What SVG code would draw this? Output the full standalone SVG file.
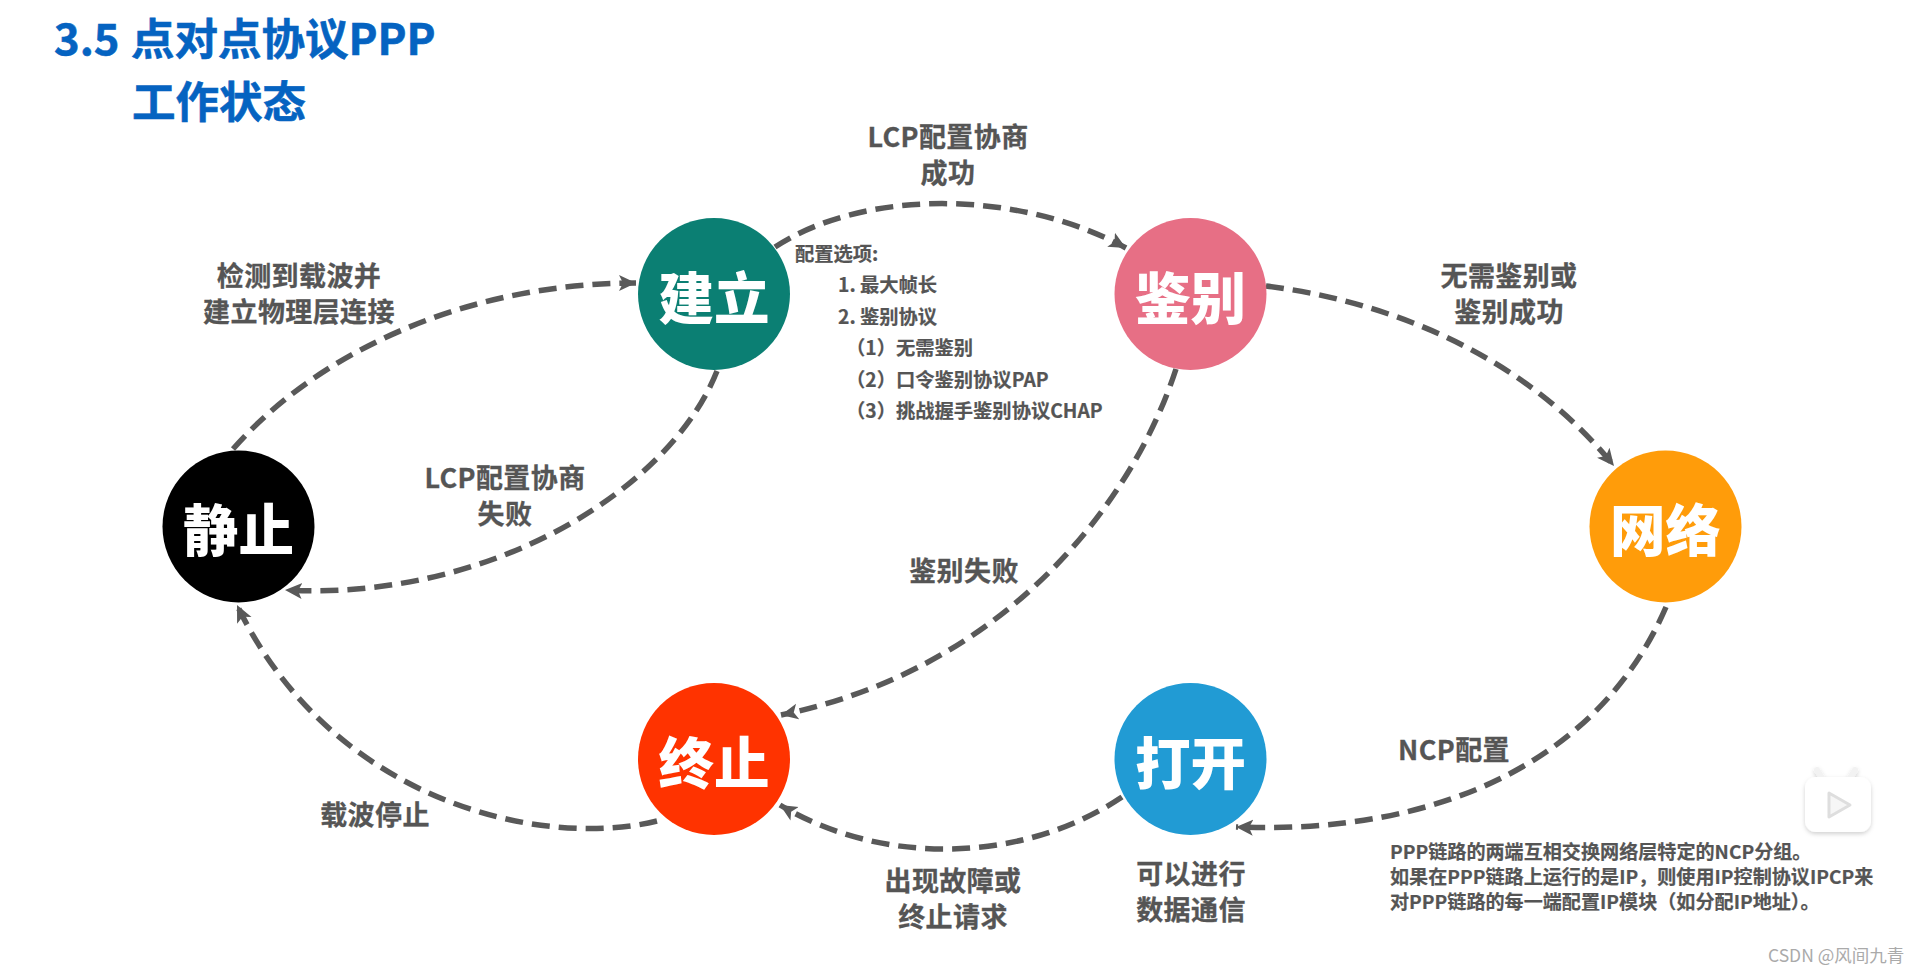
<svg xmlns="http://www.w3.org/2000/svg" width="1920" height="974" viewBox="0 0 1920 974">
<style>
text{font-family:"Noto Sans CJK SC","Noto Sans",sans-serif;font-weight:700}
.n{font-size:55.5px;fill:#fff;text-anchor:middle;font-weight:900}
.t{font-size:43.5px;fill:#0563c1;stroke:#0563c1;stroke-width:.6}
.l{font-size:27px;letter-spacing:.4px;fill:#555;text-anchor:middle;stroke:#555;stroke-width:.3}
.s{font-size:19.3px;fill:#555;stroke:#555;stroke-width:.2}
.m{font-size:19.1px}
.c{fill:none;stroke:#595959;stroke-width:5.5;stroke-dasharray:18 9;marker-end:url(#a)}
</style>
<defs>
<marker id="a" markerUnits="userSpaceOnUse" markerWidth="22" markerHeight="22" refX="17" refY="10" orient="auto">
<path d="M0 2 L17 10 L0 18 L4 10 Z" fill="#595959"/>
</marker>
<filter id="sh" x="-20%" y="-20%" width="140%" height="150%"><feDropShadow dx="0" dy="2" stdDeviation="2" flood-color="#000" flood-opacity=".18"/></filter>
</defs>
<rect width="1920" height="974" fill="#fff"/>
<g id="title">
<text class="t" x="54" y="55">3.5</text>
<text class="t" x="131" y="55">点对点协议PPP</text>
<text class="t" x="132" y="118">工作状态</text>
</g>
<g id="connectors">
<path class="c" d="M233 449 C320 350 470 283 636 283"/>
<path class="c" d="M717 371 C670 490 490 601 285 590"/>
<path class="c" d="M775 247 C865 188 1020 190 1126 248"/>
<path class="c" d="M1266 286 C1380 300 1520 350 1614 466"/>
<path class="c" d="M1666 607 C1600 760 1440 835 1236 827"/>
<path class="c" d="M1122 797 C1020 865 880 865 780 805"/>
<path class="c" d="M657 821 C540 850 330 800 237 605"/>
<path class="c" d="M1176 369 C1130 510 1000 670 781 715"/>
</g>
<g id="node-idle"><circle cx="238.5" cy="526.5" r="76" fill="#000"/><text class="n" x="238.5" y="551">静止</text></g>
<g id="node-establish"><circle cx="714" cy="294" r="76" fill="#0b7f73"/><text class="n" x="714" y="319">建立</text></g>
<g id="node-auth"><circle cx="1190.5" cy="294" r="76" fill="#e76f85"/><text class="n" x="1190.5" y="319">鉴别</text></g>
<g id="node-network"><circle cx="1665.5" cy="526.5" r="76" fill="#ff9c0a"/><text class="n" x="1665.5" y="551">网络</text></g>
<g id="node-open"><circle cx="1190.5" cy="759" r="76" fill="#219bd4"/><text class="n" x="1190.5" y="784">打开</text></g>
<g id="node-terminate"><circle cx="714" cy="759" r="76" fill="#ff3300"/><text class="n" x="714" y="784">终止</text></g>
<g id="labels">
<text class="l"><tspan x="299" y="286">检测到载波并</tspan><tspan x="299" y="322">建立物理层连接</tspan></text>
<text class="l"><tspan x="948" y="147">LCP配置协商</tspan><tspan x="948" y="183">成功</tspan></text>
<text class="l"><tspan x="1509" y="286">无需鉴别或</tspan><tspan x="1509" y="322">鉴别成功</tspan></text>
<text class="l"><tspan x="505" y="488">LCP配置协商</tspan><tspan x="505" y="524">失败</tspan></text>
<text class="l" x="964" y="581">鉴别失败</text>
<text class="l" x="375" y="825">载波停止</text>
<text class="l"><tspan x="953" y="891">出现故障或</tspan><tspan x="953" y="927">终止请求</tspan></text>
<text class="l"><tspan x="1191" y="884">可以进行</tspan><tspan x="1191" y="920">数据通信</tspan></text>
<text class="l" x="1454" y="760">NCP配置</text>
</g>
<g id="options">
<text class="s"><tspan x="795" y="261">配置选项:</tspan><tspan x="838" y="292">1. 最大帧长</tspan><tspan x="838" y="324">2. 鉴别协议</tspan><tspan x="846" y="355">（1）无需鉴别</tspan><tspan x="846" y="387">（2）口令鉴别协议PAP</tspan><tspan x="846" y="418">（3）挑战握手鉴别协议CHAP</tspan></text>
</g>
<g id="note">
<text class="s m"><tspan x="1390" y="859">PPP链路的两端互相交换网络层特定的NCP分组。</tspan><tspan x="1390" y="884">如果在PPP链路上运行的是IP，则使用IP控制协议IPCP来</tspan><tspan x="1390" y="909">对PPP链路的每一端配置IP模块（如分配IP地址）。</tspan></text>
</g>
<g id="watermark-icon" filter="url(#sh)">
<path d="M1822 778 L1817 770 M1850 778 L1855 770" stroke="#f2f2f2" stroke-width="6" stroke-linecap="round" fill="none"/>
<rect x="1805" y="777" width="66" height="55" rx="11" fill="#fff"/>
<path d="M1829 793 L1850 805 L1829 817 Z" fill="#f6f6f6" stroke="#dedede" stroke-width="3" stroke-linejoin="round"/>
</g>
<text id="watermark" x="1768" y="962" font-size="17.5" fill="#aaa" style="font-weight:400">CSDN @风间九青</text>
</svg>
